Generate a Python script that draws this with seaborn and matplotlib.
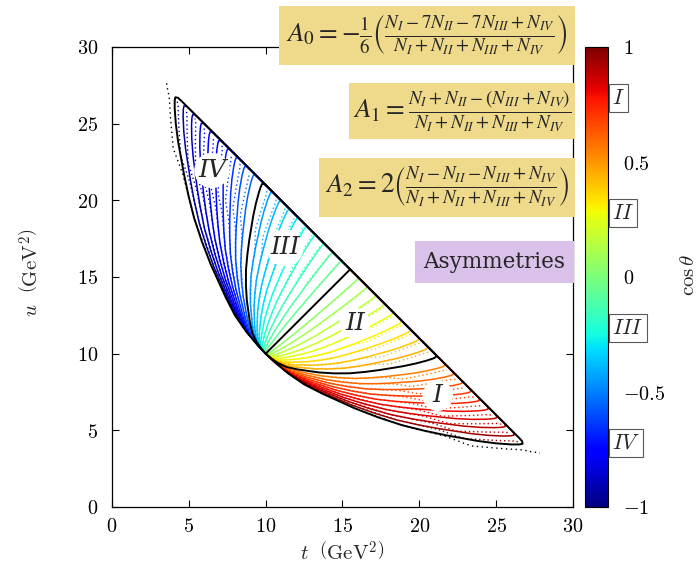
import numpy as np
import pandas as pd
import matplotlib
matplotlib.use("Agg")
import matplotlib.pyplot as plt
import seaborn as sns
from matplotlib.patches import Rectangle
from matplotlib.cm import ScalarMappable
from matplotlib.colors import Normalize

# ---- data -----------------------------------------------------------------
# solid cos(theta)=+1 boundary curve (t, u in GeV^2), incl. its return along the upper edge
edge_t = [10.0, 10.62, 11.47, 12.5, 13.65, 15.81, 17.31, 18.86, 20.3, 21.67, 23.84,
          25.01, 26.0, 26.5, 26.72, 26.69, 26.5, 26.2, 24.9, 22.7, 19.5, 15.5]
edge_u = [10.0, 9.42, 8.71, 8.0, 7.41, 6.43, 5.85, 5.34, 4.98, 4.69, 4.30,
          4.15, 4.08, 4.08, 4.12, 4.29, 4.5, 4.8, 6.1, 8.3, 11.5, 15.5]
# dotted outer cos(theta)=+1 curve
dot_t = [10.0, 11.47, 13.65, 15.81, 18.86, 21.67, 23.4, 25.5, 26.8, 27.09, 27.85]
dot_u = [10.0, 8.71, 7.41, 6.43, 5.34, 4.62, 3.98, 3.80, 3.72, 3.64, 3.52]

cos_colored = [-0.95, -0.9, -0.85, -0.8, -0.75, -0.7, -0.65, -0.6, -0.55,
               -0.45, -0.4, -0.35, -0.3, -0.25, -0.2, -0.15, -0.1, -0.05,
               0.05, 0.1, 0.15, 0.2, 0.25, 0.3, 0.35, 0.4, 0.45,
               0.55, 0.6, 0.65, 0.7, 0.75, 0.8, 0.85, 0.9, 0.95]
cos_black = [-1.0, -0.5, 0.0, 0.5, 1.0]

region_names = ["I", "II", "III", "IV"]
region_t = [21.2, 15.8, 11.25, 6.5]
region_u = [7.25, 12.0, 16.9, 21.95]
region_cbar_pos = [0.78, 0.28, -0.22, -0.72]

axis_ticks = [0, 5, 10, 15, 20, 25, 30]
cbar_ticks = [-1, -0.5, 0, 0.5, 1]
cbar_labels = [r"$-1$", r"$-0.5$", r"$0$", r"$0.5$", r"$1$"]

formula_A0 = r"$A_0=-\frac{1}{6}\left(\frac{N_{I}-7N_{II}-7N_{III}+N_{IV}}{N_{I}+N_{II}+N_{III}+N_{IV}}\right)$"
formula_A1 = r"$A_1=\frac{N_{I}+N_{II}-(N_{III}+N_{IV})}{N_{I}+N_{II}+N_{III}+N_{IV}}$"
formula_A2 = r"$A_2=2\left(\frac{N_{I}-N_{II}-N_{III}+N_{IV}}{N_{I}+N_{II}+N_{III}+N_{IV}}\right)$"

# ---- build curve tables ----------------------------------------------------
def family(tt, uu, cos_list):
    tt = np.asarray(tt); uu = np.asarray(uu)
    a = (tt + uu) / 2.0
    b = (tt - uu) / 2.0
    frames = []
    for i, c in enumerate(cos_list):
        frames.append(pd.DataFrame({"t": a + b * c, "u": a - b * c,
                                    "cos": c, "curve": i}))
    return pd.concat(frames, ignore_index=True)

df_col = family(edge_t, edge_u, cos_colored)
df_col_dot = family(dot_t[:-1], dot_u[:-1], cos_colored)
df_blk = family(edge_t, edge_u, cos_black)
df_blk_dot = family(dot_t, dot_u, [-1.0, 1.0])

# ---- style -----------------------------------------------------------------
sns.set_theme(style="white")
plt.rcParams.update({
    "font.family": ["DejaVu Serif"],
    "mathtext.fontset": "cm",
    "axes.linewidth": 0.9,
    "axes.edgecolor": "black",
    "xtick.direction": "in", "ytick.direction": "in",
    "xtick.bottom": True, "ytick.left": True,
    "xtick.top": True, "ytick.right": True,
    "xtick.major.size": 5, "ytick.major.size": 5,
    "xtick.major.width": 0.8, "ytick.major.width": 0.8,
    "xtick.color": "black", "ytick.color": "black",
})

W, H = 699, 582
def fx(px): return px / W
def fy(py): return 1 - py / H

fig = plt.figure(figsize=(W / 100, H / 100), dpi=100)
ax = fig.add_axes([fx(112), fy(507), (573 - 112) / W, (507 - 47) / H])
cax = fig.add_axes([fx(585), fy(507), 23 / W, (507 - 47) / H])

cmap = plt.get_cmap("jet")
sns.lineplot(data=df_col, x="t", y="u", hue="cos", units="curve", estimator=None,
             sort=False, palette=cmap, hue_norm=(-1, 1), legend=False, lw=1.1, ax=ax)
sns.lineplot(data=df_col_dot, x="t", y="u", hue="cos", units="curve", estimator=None,
             sort=False, palette=cmap, hue_norm=(-1, 1), legend=False, lw=1.0,
             linestyle=(0, (1, 2)), ax=ax)
sns.lineplot(data=df_blk_dot, x="t", y="u", units="curve", estimator=None,
             sort=False, color="black", legend=False, lw=1.0,
             linestyle=(0, (1, 2.5)), ax=ax)
sns.lineplot(data=df_blk, x="t", y="u", units="curve", estimator=None,
             sort=False, color="black", legend=False, lw=1.4, ax=ax)

for name, tt, uu in zip(region_names, region_t, region_u):
    ax.text(tt, uu, name, fontsize=18, style="italic", family="DejaVu Serif",
            ha="center", va="center", zorder=6,
            bbox=dict(boxstyle="circle,pad=0.15", fc="white", ec="none"))

ax.set_xlim(0, 30)
ax.set_ylim(0, 30)
ax.set_xticks(axis_ticks)
ax.set_yticks(axis_ticks)
ax.set_xticklabels([f"${v}$" for v in axis_ticks], fontsize=14.5)
ax.set_yticklabels([f"${v}$" for v in axis_ticks], fontsize=14.5)
ax.tick_params(axis="x", pad=7)
ax.tick_params(axis="y", pad=10)
ax.set_xlabel(r"$t\ \ \left(\mathrm{GeV}^2\right)$", fontsize=15)
ax.set_ylabel(r"$u\ \ \left(\mathrm{GeV}^2\right)$", fontsize=15)
ax.xaxis.set_label_coords(0.5, -0.072)
ax.yaxis.set_label_coords(-0.152, 0.509)
for s in ax.spines.values():
    s.set_color("black")

# ---- colorbar --------------------------------------------------------------
cb = fig.colorbar(ScalarMappable(norm=Normalize(-1, 1), cmap=cmap), cax=cax)
cb.set_ticks(cbar_ticks)
cb.set_ticklabels(cbar_labels)
cax.tick_params(direction="in", left=True, right=True, length=7, width=0.8,
                color="0.3", labelsize=14.5, pad=11)
cb.outline.set_linewidth(0.8)
cb.outline.set_edgecolor("black")
for name, pos in zip(region_names, region_cbar_pos):
    cax.text(1.18, pos, f"${name}$", transform=cax.get_yaxis_transform(),
             fontsize=15.5, ha="left", va="center",
             bbox=dict(boxstyle="square,pad=0.14", fc="white", ec="0.35", lw=0.8))
fig.text(fx(688), fy(275), r"$\cos\theta$", rotation=90, fontsize=15,
         ha="center", va="center")

# ---- formula boxes ----------------------------------------------------------
boxes = [(279, 6, 575, 65, "#EEDA8A", formula_A0),
         (349, 83, 575, 139, "#EEDA8A", formula_A1),
         (319, 158, 575, 217, "#EEDA8A", formula_A2),
         (415, 241, 574, 283, "#D9C1E9", None)]
for x0, y0, x1, y1, col, txt in boxes:
    fig.add_artist(Rectangle((fx(x0), fy(y1)), (x1 - x0) / W, (y1 - y0) / H,
                             transform=fig.transFigure, fc=col, ec="none", zorder=5))
    cxp, cyp = (x0 + x1) / 2, (y0 + y1) / 2
    if txt is not None:
        fig.text(fx(cxp), fy(cyp), txt, fontsize=19.5, ha="center", va="center",
                 math_fontfamily="stix", zorder=6)
    else:
        fig.text(fx(cxp), fy(cyp), "Asymmetries", fontsize=15.5, ha="center",
                 va="center", family="DejaVu Serif", zorder=6)

fig.savefig("out.png", dpi=100)
